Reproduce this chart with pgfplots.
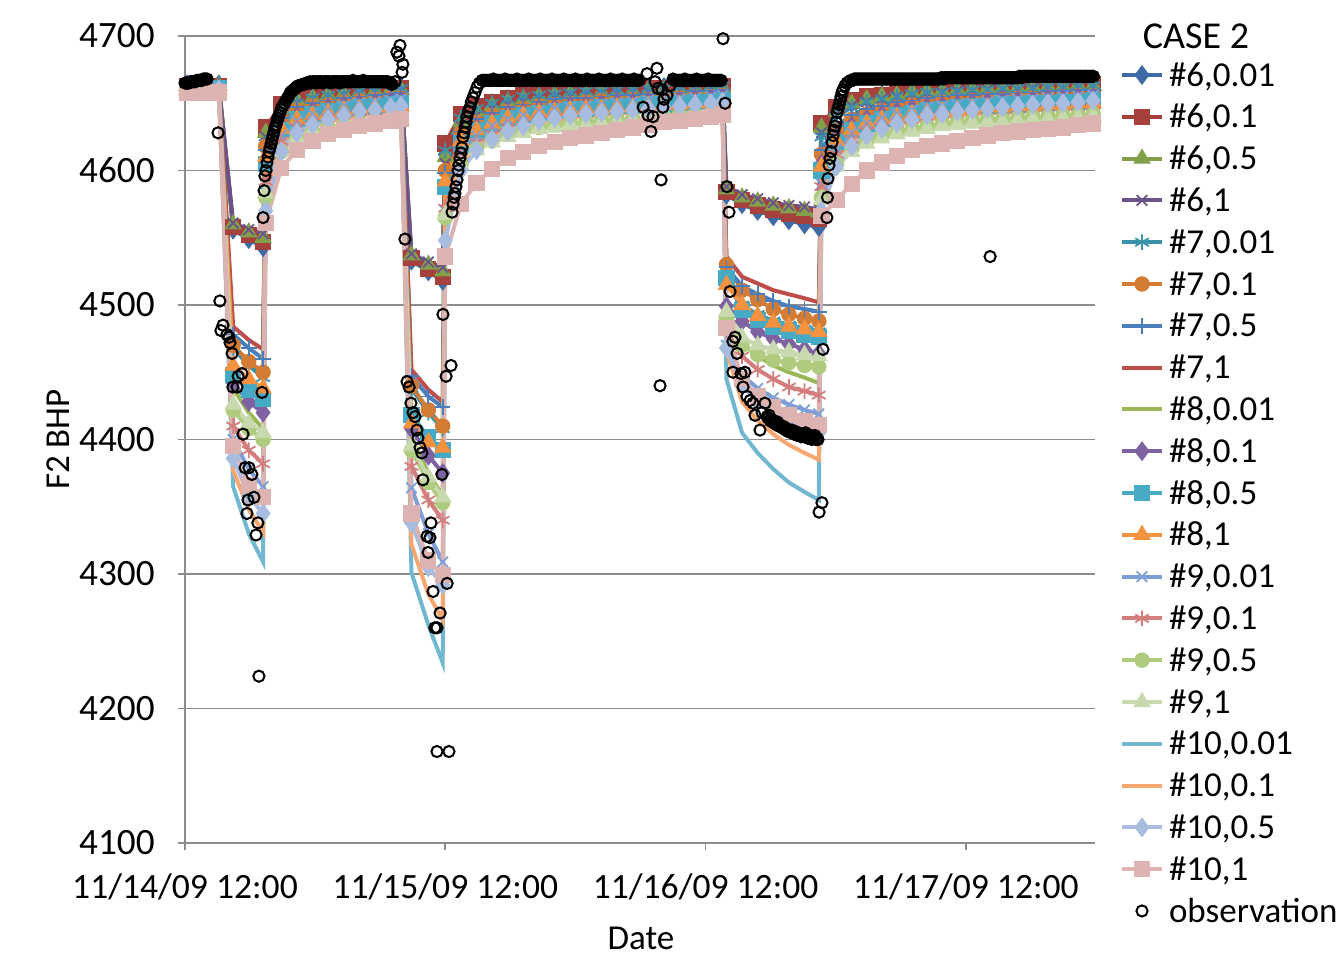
\documentclass[border=0pt]{standalone}
\usepackage{fontspec}
\setmainfont{Carlito}
\usepackage{pgfplots}
\usepackage{pgfplotstable}
\pgfplotsset{compat=1.18}
\definecolor{c1}{HTML}{3E6BA6}
\definecolor{c2}{HTML}{A5403D}
\definecolor{c3}{HTML}{82A04A}
\definecolor{c4}{HTML}{6B518A}
\definecolor{c5}{HTML}{3A92AA}
\definecolor{c6}{HTML}{D27C35}
\definecolor{c7}{HTML}{4A7EBD}
\definecolor{c8}{HTML}{BE4D4A}
\definecolor{c9}{HTML}{98B955}
\definecolor{c10}{HTML}{7E62A1}
\definecolor{c11}{HTML}{46AAC5}
\definecolor{c12}{HTML}{F59240}
\definecolor{c13}{HTML}{7E9FD5}
\definecolor{c14}{HTML}{D37E7C}
\definecolor{c15}{HTML}{AECB7E}
\definecolor{c16}{HTML}{C7D9AD}
\definecolor{c17}{HTML}{72B7D0}
\definecolor{c18}{HTML}{F7A870}
\definecolor{c19}{HTML}{A8BCE0}
\definecolor{c20}{HTML}{DDB3B2}
\definecolor{gridc}{HTML}{8C8C8C}

\pgfplotstableread{
t s1 s2 s3 s4 s5 s6 s7 s8 s9 s10 s11 s12 s13 s14 s15 s16 s17 s18 s19 s20
0.008 4664 4663 4663 4662 4664 4661 4663 4662 4660 4661 4661 4660 4662 4660 4659 4659 4663 4660 4660 4658
0.07 4664 4663 4663 4662 4664 4661 4663 4662 4660 4661 4661 4660 4662 4660 4659 4659 4663 4660 4660 4658
0.13 4664 4663 4663 4662 4664 4661 4663 4662 4660 4661 4661 4660 4662 4660 4659 4659 4663 4660 4660 4658
0.185 4556 4558 4560 4561 4468 4470 4478 4484 4438 4442 4448 4455 4400 4410 4422 4426 4365 4377 4386 4395
0.245 4549 4552 4554 4556 4455 4458 4468 4474 4420 4428 4437 4445 4378 4392 4408 4412 4330 4348 4358 4366
0.30 4543 4547 4550 4553 4446 4450 4460 4467 4408 4420 4430 4438 4365 4382 4400 4405 4309 4331 4345 4357
0.31 4626 4632 4628 4625 4620 4618 4615 4612 4600 4608 4605 4610 4590 4592 4580 4583 4575 4582 4570 4561
0.37 4646 4649 4646 4644 4643 4638 4639 4637 4627 4633 4630 4631 4626 4622 4614 4614 4621 4617 4614 4602
0.43 4653 4654 4652 4650 4650 4645 4647 4644 4635 4640 4638 4638 4637 4632 4624 4624 4635 4628 4628 4615
0.49 4656 4656 4654 4653 4654 4648 4650 4648 4639 4644 4642 4641 4642 4636 4629 4629 4641 4633 4634 4622
0.55 4657 4658 4656 4655 4656 4649 4652 4650 4642 4646 4644 4643 4645 4639 4632 4631 4646 4636 4638 4627
0.61 4659 4659 4657 4656 4657 4651 4654 4652 4644 4648 4646 4645 4648 4641 4634 4634 4649 4639 4641 4630
0.67 4660 4660 4658 4657 4659 4652 4655 4653 4645 4649 4647 4646 4650 4643 4636 4635 4651 4641 4644 4633
0.73 4661 4660 4659 4658 4659 4653 4656 4654 4646 4650 4648 4647 4651 4644 4637 4637 4653 4642 4645 4635
0.79 4662 4661 4660 4659 4660 4654 4657 4655 4647 4651 4649 4647 4652 4645 4639 4638 4655 4643 4647 4637
0.83 4662 4661 4660 4659 4661 4654 4658 4656 4648 4652 4650 4648 4653 4645 4639 4638 4656 4644 4648 4638
0.87 4533 4535 4537 4538 4438 4440 4447 4452 4402 4408 4418 4412 4364 4380 4392 4395 4301 4322 4338 4345
0.935 4525 4527 4530 4532 4420 4422 4432 4437 4375 4388 4402 4398 4330 4355 4368 4372 4262 4285 4305 4310
0.99 4518 4521 4525 4528 4408 4410 4424 4428 4358 4375 4392 4394 4309 4340 4353 4357 4234 4266 4292 4299
1.00 4612 4620 4610 4605 4615 4600 4598 4596 4580 4590 4588 4592 4570 4572 4565 4567 4550 4560 4548 4536
1.06 4638 4642 4636 4633 4639 4628 4629 4627 4615 4622 4620 4622 4613 4610 4604 4604 4605 4604 4600 4575
1.12 4646 4648 4644 4641 4646 4636 4638 4636 4626 4632 4630 4630 4626 4621 4616 4615 4621 4617 4615 4591
1.18 4650 4651 4648 4646 4650 4641 4643 4641 4631 4637 4635 4635 4633 4627 4622 4621 4630 4624 4623 4601
1.24 4653 4654 4651 4649 4653 4644 4647 4645 4635 4641 4639 4639 4638 4632 4627 4625 4636 4630 4629 4609
1.30 4655 4656 4653 4651 4655 4646 4649 4647 4638 4643 4641 4641 4641 4635 4630 4628 4640 4633 4633 4614
1.36 4657 4657 4655 4653 4656 4648 4651 4649 4640 4645 4643 4643 4644 4637 4632 4631 4644 4636 4637 4618
1.42 4658 4658 4656 4654 4657 4649 4653 4651 4642 4646 4644 4644 4646 4639 4634 4632 4646 4637 4639 4621
1.48 4659 4659 4657 4655 4658 4650 4654 4652 4643 4648 4646 4645 4647 4640 4635 4634 4648 4639 4641 4624
1.54 4659 4659 4657 4656 4659 4651 4654 4652 4644 4648 4646 4646 4648 4641 4636 4634 4649 4640 4642 4626
1.60 4660 4660 4658 4657 4659 4652 4655 4653 4644 4649 4647 4646 4649 4642 4637 4635 4650 4641 4643 4628
1.66 4660 4660 4658 4657 4660 4652 4656 4654 4645 4650 4648 4647 4650 4643 4638 4636 4651 4642 4644 4630
1.72 4661 4660 4659 4658 4660 4653 4656 4654 4646 4650 4648 4647 4651 4643 4638 4637 4652 4643 4645 4632
1.78 4661 4661 4659 4658 4661 4653 4657 4655 4647 4651 4649 4648 4652 4644 4639 4637 4654 4644 4646 4634
1.84 4662 4661 4660 4659 4661 4654 4658 4656 4647 4651 4649 4649 4653 4645 4640 4638 4655 4644 4647 4636
1.90 4662 4662 4660 4659 4662 4654 4658 4656 4648 4652 4650 4649 4653 4646 4641 4639 4656 4645 4648 4637
1.96 4663 4662 4661 4660 4662 4655 4659 4657 4649 4653 4651 4650 4654 4646 4641 4640 4657 4646 4649 4638
2.02 4663 4663 4661 4660 4663 4655 4659 4657 4649 4653 4651 4650 4655 4647 4642 4640 4658 4647 4650 4640
2.065 4664 4663 4662 4661 4663 4656 4660 4658 4650 4654 4652 4651 4656 4648 4643 4641 4659 4648 4651 4641
2.08 4582 4584 4586 4588 4518 4530 4528 4536 4495 4499 4520 4515 4470 4481 4490 4495 4445 4466 4468 4483
2.14 4575 4578 4580 4582 4500 4511 4514 4521 4472 4488 4496 4500 4448 4462 4470 4476 4405 4428 4440 4445
2.20 4570 4574 4577 4579 4493 4504 4508 4516 4462 4480 4489 4492 4438 4452 4463 4470 4390 4414 4428 4432
2.26 4566 4571 4574 4576 4488 4497 4503 4511 4455 4475 4484 4487 4431 4445 4459 4467 4378 4404 4420 4424
2.32 4563 4568 4572 4574 4485 4493 4499 4508 4450 4471 4481 4484 4426 4439 4457 4465 4368 4396 4414 4418
2.38 4560 4566 4570 4573 4482 4490 4497 4505 4446 4467 4478 4482 4422 4436 4455 4463 4361 4390 4409 4414
2.435 4558 4564 4569 4571 4480 4488 4495 4502 4442 4464 4476 4480 4419 4433 4454 4462 4355 4385 4405 4411
2.445 4630 4635 4632 4628 4625 4612 4615 4610 4598 4605 4600 4603 4590 4588 4580 4578 4575 4585 4570 4566
2.503 4644 4647 4644 4642 4640 4630 4633 4629 4619 4625 4621 4622 4616 4612 4605 4603 4609 4610 4603 4578
2.561 4650 4652 4650 4648 4647 4638 4641 4638 4628 4633 4630 4630 4628 4623 4616 4614 4624 4621 4618 4590
2.619 4654 4655 4653 4651 4651 4642 4646 4643 4633 4638 4635 4635 4635 4629 4622 4620 4633 4627 4626 4600
2.677 4656 4656 4655 4653 4653 4645 4648 4646 4636 4641 4638 4638 4639 4632 4626 4624 4638 4631 4631 4606
2.735 4658 4658 4656 4655 4655 4647 4651 4648 4639 4644 4641 4640 4642 4635 4629 4627 4642 4634 4635 4611
2.793 4659 4659 4658 4656 4657 4649 4652 4650 4641 4646 4643 4642 4645 4638 4631 4629 4646 4636 4638 4615
2.851 4660 4660 4659 4657 4658 4650 4654 4651 4643 4647 4645 4643 4647 4640 4633 4631 4648 4638 4641 4618
2.909 4661 4661 4659 4658 4658 4651 4655 4652 4644 4648 4646 4644 4648 4641 4635 4633 4650 4640 4642 4620
2.967 4662 4661 4660 4659 4659 4652 4656 4653 4645 4649 4647 4645 4649 4642 4636 4634 4652 4641 4644 4622
3.025 4662 4662 4660 4659 4660 4652 4656 4654 4646 4650 4648 4646 4650 4643 4637 4635 4653 4642 4645 4624
3.083 4663 4662 4661 4660 4660 4653 4657 4655 4646 4651 4648 4647 4651 4644 4638 4636 4654 4643 4646 4626
3.141 4663 4662 4661 4660 4661 4653 4657 4655 4647 4651 4649 4647 4652 4644 4638 4636 4655 4643 4647 4628
3.199 4663 4663 4661 4660 4661 4654 4658 4656 4647 4652 4649 4648 4653 4645 4639 4637 4656 4644 4648 4629
3.257 4664 4663 4662 4661 4661 4654 4658 4656 4648 4652 4650 4648 4653 4646 4640 4638 4657 4645 4649 4630
3.315 4664 4663 4662 4661 4662 4655 4659 4657 4648 4653 4650 4649 4654 4646 4640 4638 4657 4645 4650 4631
3.373 4664 4663 4662 4661 4662 4655 4659 4657 4649 4653 4651 4649 4655 4647 4641 4639 4658 4646 4650 4632
3.431 4665 4664 4663 4662 4663 4656 4660 4658 4649 4654 4651 4650 4655 4647 4641 4639 4659 4646 4651 4634
3.489 4665 4664 4663 4662 4663 4656 4660 4658 4650 4654 4652 4650 4656 4648 4642 4640 4660 4647 4652 4635
}\simdata

\pgfplotsset{
  ser/.style={color=#1, line width=2pt, mark options={solid, fill=#1, draw=#1, line width=0.5pt}},
  serthin/.style={color=#1, line width=2pt, mark options={solid, draw=#1, line width=0.9pt}},
}

\begin{document}
\begin{tikzpicture}
\begin{axis}[
  at={(0pt,0pt)}, anchor=south west,
  scale only axis, width=455pt, height=403.5pt,
  xmin=0, xmax=3.496, ymin=4100, ymax=4700,
  clip=false,
  axis x line*=bottom, axis y line*=left,
  axis line style={draw=gridc, line width=0.8pt},
  ymajorgrids, grid style={draw=gridc, line width=0.7pt},
  xtick={0,1,2,3},
  xticklabels={11/14/09 12:00, 11/15/09 12:00, 11/16/09 12:00, 11/17/09 12:00},
  ytick={4100,4200,4300,4400,4500,4600,4700},
  tick align=outside, major tick length=3.5pt,
  tick style={draw=gridc, line width=0.8pt},
  xticklabel style={font=\fontsize{17.8}{20}\selectfont, inner sep=0pt, yshift=-11.5pt},
  yticklabel style={font=\fontsize{18.6}{20}\selectfont, inner sep=0pt, xshift=-11.5pt},
  /pgf/number format/1000 sep={},
  /pgf/number format/assume math mode=true,
  xlabel={Date}, ylabel={F2 BHP},
  label style={font=\fontsize{17.5}{20}\selectfont},
  xlabel style={at={(axis description cs:0.501,-0.1177)}, anchor=center},
  ylabel style={at={(axis description cs:-0.1396,0.5)}, anchor=center},
  legend style={draw=none, fill=none, at={(axis description cs:1.0275,0.9776)}, anchor=north west,
    inner sep=0pt, outer sep=0pt, row sep=0pt, column sep=2.5pt,
    font=\fontsize{17.5}{20}\selectfont,
    nodes={inner sep=0pt, text height=16pt, text depth=4.9pt}},
  legend cell align=left,
  legend image code/.code={\draw[mark repeat=2,mark phase=2,#1] plot coordinates {(0pt,0pt) (10pt,0pt) (20pt,0pt)};},
]
\addplot[ser=c1, mark=diamond*, mark size=4.6pt] table[x=t,y=s1]{\simdata}; \addlegendentry{\#6,0.01}
\addplot[ser=c2, mark=square*, mark size=3.8pt] table[x=t,y=s2]{\simdata}; \addlegendentry{\#6,0.1}
\addplot[ser=c3, mark=triangle*, mark size=4.6pt] table[x=t,y=s3]{\simdata}; \addlegendentry{\#6,0.5}
\addplot[serthin=c4, mark=x, mark size=3.7pt] table[x=t,y=s4]{\simdata}; \addlegendentry{\#6,1}
\addplot[serthin=c5, mark=asterisk, mark size=3.9pt] table[x=t,y=s5]{\simdata}; \addlegendentry{\#7,0.01}
\addplot[ser=c6, mark=*, mark size=3.6pt] table[x=t,y=s6]{\simdata}; \addlegendentry{\#7,0.1}
\addplot[serthin=c7, mark=+, mark size=3.9pt] table[x=t,y=s7]{\simdata}; \addlegendentry{\#7,0.5}
\addplot[ser=c8, mark=none] table[x=t,y=s8]{\simdata}; \addlegendentry{\#7,1}
\addplot[ser=c9, mark=none] table[x=t,y=s9]{\simdata}; \addlegendentry{\#8,0.01}
\addplot[ser=c10, mark=diamond*, mark size=4.6pt] table[x=t,y=s10]{\simdata}; \addlegendentry{\#8,0.1}
\addplot[ser=c11, mark=square*, mark size=3.8pt] table[x=t,y=s11]{\simdata}; \addlegendentry{\#8,0.5}
\addplot[ser=c12, mark=triangle*, mark size=4.6pt] table[x=t,y=s12]{\simdata}; \addlegendentry{\#8,1}
\addplot[serthin=c13, mark=x, mark size=3.7pt] table[x=t,y=s13]{\simdata}; \addlegendentry{\#9,0.01}
\addplot[serthin=c14, mark=asterisk, mark size=3.9pt] table[x=t,y=s14]{\simdata}; \addlegendentry{\#9,0.1}
\addplot[ser=c15, mark=*, mark size=3.6pt] table[x=t,y=s15]{\simdata}; \addlegendentry{\#9,0.5}
\addplot[ser=c16, mark=triangle*, mark size=4.6pt] table[x=t,y=s16]{\simdata}; \addlegendentry{\#9,1}
\addplot[ser=c17, mark=none] table[x=t,y=s17]{\simdata}; \addlegendentry{\#10,0.01}
\addplot[ser=c18, mark=none] table[x=t,y=s18]{\simdata}; \addlegendentry{\#10,0.1}
\addplot[ser=c19, mark=diamond*, mark size=4.6pt] table[x=t,y=s19]{\simdata}; \addlegendentry{\#10,0.5}
\addplot[ser=c20, mark=square*, mark size=3.8pt] table[x=t,y=s20]{\simdata}; \addlegendentry{\#10,1}
\addplot[only marks, mark=o, mark size=2.8pt, black, mark options={line width=1pt}] coordinates {
(0.000,4665) (0.005,4665) (0.010,4665) (0.015,4665) (0.020,4666) (0.025,4666) (0.030,4666) (0.035,4666) (0.040,4666)
(0.045,4667) (0.050,4667) (0.055,4667) (0.060,4667) (0.065,4667) (0.070,4668) (0.075,4668) (0.080,4668) (0.085,4668)
(0.127,4628) (0.134,4503) (0.138,4481) (0.146,4485) (0.161,4478) (0.169,4476) (0.173,4472) (0.181,4464) (0.184,4439)
(0.200,4439) (0.204,4447) (0.219,4449) (0.223,4404) (0.231,4379) (0.238,4345) (0.242,4355) (0.246,4379) (0.257,4374)
(0.265,4357) (0.273,4329) (0.280,4338) (0.284,4224) (0.296,4435)
(0.300,4565) (0.304,4585) (0.307,4596) (0.311,4600) (0.315,4606) (0.319,4610) (0.323,4614) (0.327,4617) (0.331,4620)
(0.334,4623) (0.338,4626) (0.342,4629) (0.346,4632) (0.350,4634) (0.354,4637) (0.357,4639) (0.361,4641) (0.365,4643)
(0.370,4646) (0.376,4648) (0.382,4650) (0.388,4652) (0.394,4654) (0.400,4656) (0.405,4658) (0.411,4659) (0.417,4660)
(0.423,4661) (0.428,4662) (0.434,4663) (0.441,4663) (0.449,4664) (0.457,4664) (0.465,4665)
(0.470,4665) (0.475,4665) (0.480,4666) (0.485,4665) (0.490,4666) (0.495,4666) (0.500,4666) (0.505,4665) (0.510,4666)
(0.515,4666) (0.520,4666) (0.525,4666) (0.530,4665) (0.535,4666) (0.540,4666) (0.545,4666) (0.550,4666) (0.555,4666)
(0.560,4665) (0.565,4666) (0.570,4666) (0.575,4666) (0.580,4666) (0.585,4666) (0.590,4666) (0.595,4665) (0.600,4666)
(0.605,4666) (0.610,4666) (0.615,4666) (0.620,4666) (0.625,4666) (0.630,4666) (0.635,4666) (0.640,4666) (0.645,4667)
(0.650,4666) (0.655,4666) (0.660,4666) (0.665,4666) (0.670,4666) (0.675,4666) (0.680,4666) (0.685,4667) (0.690,4666)
(0.695,4666) (0.700,4666) (0.705,4666) (0.710,4666) (0.715,4666) (0.720,4666) (0.725,4666) (0.730,4666) (0.735,4666)
(0.740,4666) (0.745,4666) (0.750,4666) (0.755,4666) (0.760,4666) (0.765,4666) (0.770,4666) (0.775,4666) (0.780,4666)
(0.785,4665) (0.790,4665) (0.795,4664)
(0.807,4666) (0.814,4688) (0.822,4685) (0.826,4693) (0.834,4673) (0.837,4679) (0.845,4549)
(0.853,4443) (0.861,4439) (0.868,4427) (0.876,4420) (0.884,4417) (0.891,4407) (0.895,4401) (0.903,4394) (0.910,4390)
(0.914,4370) (0.930,4328) (0.934,4316) (0.941,4327) (0.945,4338) (0.953,4287) (0.960,4260) (0.968,4260) (0.968,4168)
(0.980,4271) (0.987,4374) (0.991,4493) (1.003,4447) (1.007,4293) (1.014,4168) (1.022,4455)
(1.026,4569) (1.030,4575) (1.034,4580) (1.037,4583) (1.041,4588) (1.045,4593) (1.049,4600) (1.052,4604) (1.056,4609)
(1.060,4613) (1.064,4617) (1.068,4625) (1.072,4628) (1.076,4632) (1.080,4636) (1.083,4640) (1.089,4644) (1.095,4647)
(1.100,4651) (1.106,4654) (1.114,4658) (1.122,4662) (1.131,4665) (1.141,4667)
(1.145,4667) (1.150,4667) (1.155,4667) (1.160,4667) (1.165,4667) (1.170,4667) (1.175,4667) (1.180,4667) (1.185,4668)
(1.190,4667) (1.195,4667) (1.200,4667) (1.205,4667) (1.210,4667) (1.215,4667) (1.220,4667) (1.225,4667) (1.230,4668)
(1.235,4667) (1.240,4667) (1.245,4667) (1.250,4667) (1.255,4667) (1.260,4667) (1.265,4667) (1.270,4667) (1.275,4668)
(1.280,4667) (1.285,4667) (1.290,4667) (1.295,4667) (1.300,4667) (1.305,4667) (1.310,4667) (1.315,4667) (1.320,4668)
(1.325,4667) (1.330,4667) (1.335,4667) (1.340,4667) (1.345,4667) (1.350,4667) (1.355,4667) (1.360,4667) (1.365,4668)
(1.370,4667) (1.375,4667) (1.380,4667) (1.385,4667) (1.390,4667) (1.395,4667) (1.400,4667) (1.405,4667) (1.410,4668)
(1.415,4667) (1.420,4667) (1.425,4667) (1.430,4667) (1.435,4667) (1.440,4667) (1.445,4667) (1.450,4667) (1.455,4668)
(1.460,4667) (1.465,4667) (1.470,4667) (1.475,4667) (1.480,4667) (1.485,4667) (1.490,4667) (1.495,4667) (1.500,4668)
(1.505,4667) (1.510,4667) (1.515,4667) (1.520,4667) (1.525,4667) (1.530,4667) (1.535,4667) (1.540,4667) (1.545,4668)
(1.550,4667) (1.555,4667) (1.560,4667) (1.565,4667) (1.570,4667) (1.575,4667) (1.580,4667) (1.585,4667) (1.590,4668)
(1.595,4667) (1.600,4667) (1.605,4667) (1.610,4667) (1.615,4667) (1.620,4667) (1.625,4667) (1.630,4667) (1.635,4668)
(1.640,4667) (1.645,4667) (1.650,4667) (1.655,4667) (1.660,4667) (1.665,4667) (1.670,4667) (1.675,4667) (1.680,4668)
(1.685,4667) (1.690,4667) (1.695,4667) (1.700,4667) (1.705,4667) (1.710,4667) (1.715,4667) (1.720,4667) (1.725,4668)
(1.730,4667) (1.735,4667) (1.740,4667) (1.745,4667)
(1.760,4647) (1.775,4672) (1.779,4641) (1.790,4629) (1.798,4640) (1.806,4666) (1.813,4676) (1.817,4661) (1.825,4440)
(1.829,4593) (1.833,4660) (1.836,4647) (1.840,4653) (1.852,4656) (1.863,4663) (1.875,4668)
(1.880,4667) (1.885,4667) (1.890,4667) (1.895,4667) (1.900,4667) (1.905,4667) (1.910,4667) (1.915,4667) (1.920,4668)
(1.925,4667) (1.930,4667) (1.935,4667) (1.940,4667) (1.945,4667) (1.950,4667) (1.955,4667) (1.960,4667) (1.965,4668)
(1.970,4667) (1.975,4667) (1.980,4667) (1.985,4667) (1.990,4667) (1.995,4667) (2.000,4667) (2.005,4667) (2.010,4668)
(2.015,4667) (2.020,4667) (2.025,4667) (2.030,4667) (2.035,4667) (2.040,4667) (2.045,4667) (2.050,4667) (2.055,4667)
(2.060,4667)
(2.067,4698) (2.075,4650) (2.082,4588) (2.090,4569) (2.094,4510) (2.105,4473) (2.105,4450) (2.113,4476) (2.121,4464)
(2.136,4449) (2.144,4439) (2.151,4450) (2.159,4432) (2.171,4429) (2.182,4427) (2.190,4418) (2.209,4407) (2.217,4420)
(2.228,4427)
(2.236,4417) (2.240,4416) (2.244,4418) (2.248,4414) (2.252,4415) (2.256,4413) (2.260,4414) (2.264,4412) (2.268,4413)
(2.272,4411) (2.276,4413) (2.280,4410) (2.284,4411) (2.288,4410) (2.292,4409) (2.296,4410) (2.300,4408) (2.304,4409)
(2.308,4407) (2.312,4408) (2.316,4406) (2.320,4407) (2.324,4406) (2.328,4405) (2.332,4407) (2.336,4405) (2.340,4404)
(2.344,4406) (2.348,4404) (2.352,4403) (2.356,4405) (2.360,4403) (2.364,4404) (2.368,4402) (2.372,4403) (2.376,4404)
(2.380,4402) (2.384,4405) (2.388,4403) (2.392,4401) (2.396,4402) (2.400,4401) (2.404,4403) (2.408,4400) (2.412,4402)
(2.416,4401) (2.420,4403) (2.424,4400) (2.428,4401) (2.432,4400)
(2.436,4346) (2.447,4353) (2.451,4467)
(2.466,4565) (2.468,4580) (2.470,4594) (2.474,4604) (2.478,4609) (2.482,4614) (2.486,4621) (2.490,4626) (2.493,4630)
(2.497,4633) (2.501,4636) (2.505,4643) (2.509,4646) (2.513,4649) (2.517,4652) (2.520,4655) (2.524,4658) (2.528,4660)
(2.535,4663) (2.543,4665) (2.550,4666) (2.558,4667) (2.566,4667)
(2.570,4668) (2.575,4668) (2.580,4668) (2.585,4668) (2.590,4668) (2.595,4668) (2.600,4668) (2.605,4668) (2.610,4668)
(2.615,4668) (2.620,4668) (2.625,4668) (2.630,4668) (2.635,4668) (2.640,4668) (2.645,4668) (2.650,4668) (2.655,4668)
(2.660,4668) (2.665,4668) (2.670,4668) (2.675,4668) (2.680,4668) (2.685,4668) (2.690,4668) (2.695,4668) (2.700,4668)
(2.705,4668) (2.710,4668) (2.715,4668) (2.720,4668) (2.725,4668) (2.730,4668) (2.735,4668) (2.740,4668) (2.745,4668)
(2.750,4668) (2.755,4668) (2.760,4668) (2.765,4668) (2.770,4668) (2.775,4668) (2.780,4668) (2.785,4668) (2.790,4668)
(2.795,4668) (2.800,4668) (2.805,4668) (2.810,4668) (2.815,4668) (2.820,4668) (2.825,4668) (2.830,4668) (2.835,4668)
(2.840,4668) (2.845,4668) (2.850,4668) (2.855,4668) (2.860,4668) (2.865,4668) (2.870,4668) (2.875,4668) (2.880,4668)
(2.885,4668) (2.890,4668) (2.895,4668) (2.900,4668) (2.905,4669) (2.910,4669) (2.915,4668) (2.920,4669) (2.925,4669)
(2.930,4669) (2.935,4669) (2.940,4669) (2.945,4669) (2.950,4669) (2.955,4669) (2.960,4669) (2.965,4669) (2.970,4669)
(2.975,4669) (2.980,4669) (2.985,4669) (2.990,4669) (2.995,4669) (3.000,4669) (3.005,4669) (3.010,4669) (3.015,4669)
(3.020,4669) (3.025,4669) (3.030,4669) (3.035,4669) (3.040,4669) (3.045,4669) (3.050,4669) (3.055,4669) (3.060,4669)
(3.065,4669) (3.070,4669) (3.075,4669) (3.080,4669) (3.085,4669) (3.090,4669) (3.095,4669) (3.100,4669) (3.105,4669)
(3.110,4669) (3.115,4669) (3.120,4669) (3.125,4669) (3.130,4669) (3.135,4669) (3.140,4669) (3.145,4669) (3.150,4669)
(3.155,4669) (3.160,4669) (3.165,4669) (3.170,4669) (3.175,4669) (3.180,4669) (3.185,4669) (3.190,4669) (3.195,4669)
(3.200,4669) (3.205,4670) (3.210,4670) (3.215,4669) (3.220,4670) (3.225,4670) (3.230,4670) (3.235,4670) (3.240,4670)
(3.245,4670) (3.250,4670) (3.255,4670) (3.260,4670) (3.265,4670) (3.270,4670) (3.275,4670) (3.280,4670) (3.285,4670)
(3.290,4670) (3.295,4670) (3.300,4670) (3.305,4670) (3.310,4670) (3.315,4670) (3.320,4670) (3.325,4670) (3.330,4670)
(3.335,4670) (3.340,4670) (3.345,4670) (3.350,4670) (3.355,4670) (3.360,4670) (3.365,4670) (3.370,4670) (3.375,4670)
(3.380,4670) (3.385,4670) (3.390,4670) (3.395,4670) (3.400,4670) (3.405,4670) (3.410,4670) (3.415,4670) (3.420,4670)
(3.425,4670) (3.430,4670) (3.435,4670) (3.440,4670) (3.445,4670) (3.450,4670) (3.455,4670) (3.460,4670) (3.465,4670)
(3.470,4670) (3.475,4670) (3.480,4670) (3.485,4670) (3.490,4670)
(3.093,4536)
}; \addlegendentry{observation}
\node[font=\fontsize{19}{22}\selectfont, anchor=center] at (axis description cs:1.111,1.0) {CASE 2};
\end{axis}
\pgfresetboundingbox
\path[use as bounding box] (-92.5pt,-67pt) rectangle (577.5pt,421.5pt);
\end{tikzpicture}
\end{document}
